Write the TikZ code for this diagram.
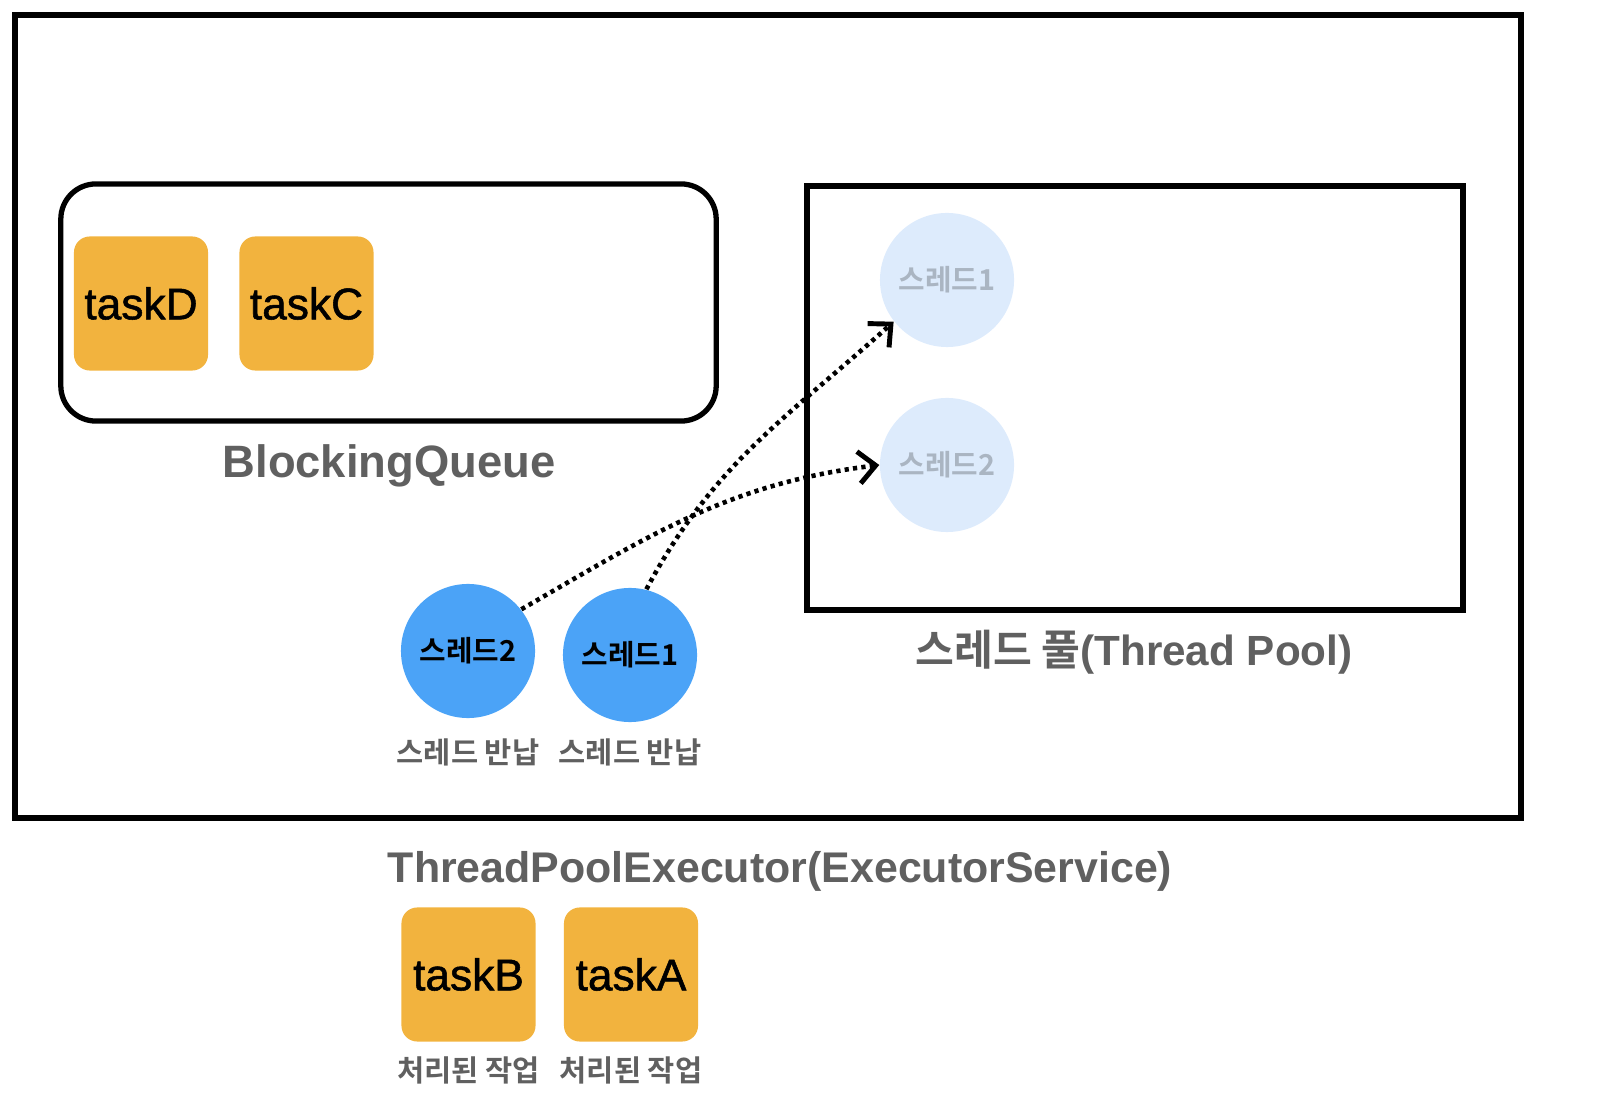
\documentclass[tikz,border=0pt]{standalone}
\usepackage{fontspec}
\setmainfont{Liberation Sans}
\newfontfamily\taskfont{Liberation Sans}[UprightFeatures={FakeBold=1.2}]
\newfontfamily\kofont{Noto Sans CJK KR}[BoldFont={Noto Sans CJK KR Bold}]
\usepackage{xcolor}
\definecolor{cTask}{HTML}{F2B33E}
\definecolor{cThread}{HTML}{4BA3F7}
\definecolor{cIdle}{HTML}{DDEBFC}
\definecolor{cIdleText}{HTML}{AAB5C2}
\definecolor{cLabel}{HTML}{606060}
\usepackage{tikz}
\usetikzlibrary{positioning,arrows.meta}
\tikzset{
  box-executor/.style={draw=black,line width=1.7pt,minimum width=15.06cm,minimum height=8.03cm},
  box-queue/.style={draw=black,line width=1.5pt,rounded corners=10pt},
  box-pool/.style={draw=black,line width=1.7pt},
  node-task/.style={fill=cTask,rounded corners=4.5pt,minimum size=1.34cm,inner sep=0pt,
    font=\taskfont\fontsize{12.6}{15}\selectfont},
  node-thread/.style={circle,fill=cThread,minimum size=1.34cm,inner sep=0pt,
    font=\kofont\bfseries\fontsize{8.2}{10}\selectfont},
  node-idle/.style={circle,fill=cIdle,minimum size=1.34cm,inner sep=0pt,text=cIdleText,
    font=\kofont\bfseries\fontsize{8.2}{10}\selectfont},
  text-title/.style={text=cLabel,font=\bfseries\fontsize{12.2}{15}\selectfont},
  text-note/.style={text=cLabel,font=\kofont\bfseries\fontsize{8.4}{10}\selectfont},
  arrow-take/.style={-{Straight Barb[length=1.7mm,width=3.2mm,line width=1.4pt]},line width=1.3pt,
    dash pattern=on 1.2pt off 1.2pt},
}

\begin{document}
\begin{tikzpicture}[x=0.01cm,y=-0.01cm,node distance=0.28cm]
  \useasboundingbox (0,0) rectangle (1604,1098);

  \node[box-executor] (executor) at (768,416.5) {};
  \node[text-title] (executorlbl) at (780,871) {ThreadPoolExecutor(ExecutorService)};

  % BlockingQueue
  \node[box-queue,minimum width=6.55cm,minimum height=2.37cm] (queue) at (388.5,302.5) {};
  \node[text-title,font=\bfseries\fontsize{12.9}{15}\selectfont] (queuelbl) at (389,466) {BlockingQueue};
  \node[node-task] (taskD) at (141,303.5) {taskD};
  \node[node-task,right=0.3cm of taskD] (taskC) {taskC};

  % thread pool
  \node[box-pool,minimum width=6.56cm,minimum height=4.24cm] (pool) at (1135,398) {};
  \node[text-title,font=\bfseries\fontsize{12}{15}\selectfont] (poollbl) at (1134,652) {{\kofont 스레드 풀}(Thread Pool)};
  \node[node-idle] (idle1) at (947,280) {스레드1};
  \node[node-idle] (idle2) at (947,465) {스레드2};

  % returned threads
  \node[node-thread] (thread2) at (468,651) {스레드2};
  \node[node-thread] (thread1) at (630,655) {스레드1};
  \node[text-note,below=0.08cm of thread2] (ret2) {스레드 반납};
  \node[text-note,below=0.04cm of thread1] (ret1) {스레드 반납};

  \draw[arrow-take] (thread1.76) to[out=62,in=222] (idle1.218);
  \draw[arrow-take] (thread2.38) to[out=30,in=187] (idle2.west);

  % finished tasks
  \node[node-task] (taskB) at (468.5,974.5) {taskB};
  \node[node-task,right=0.27cm of taskB] (taskA) {taskA};
  \node[text-note,below=0.02cm of taskB] (doneB) {처리된 작업};
  \node[text-note,below=0.02cm of taskA] (doneA) {처리된 작업};
\end{tikzpicture}
\end{document}
